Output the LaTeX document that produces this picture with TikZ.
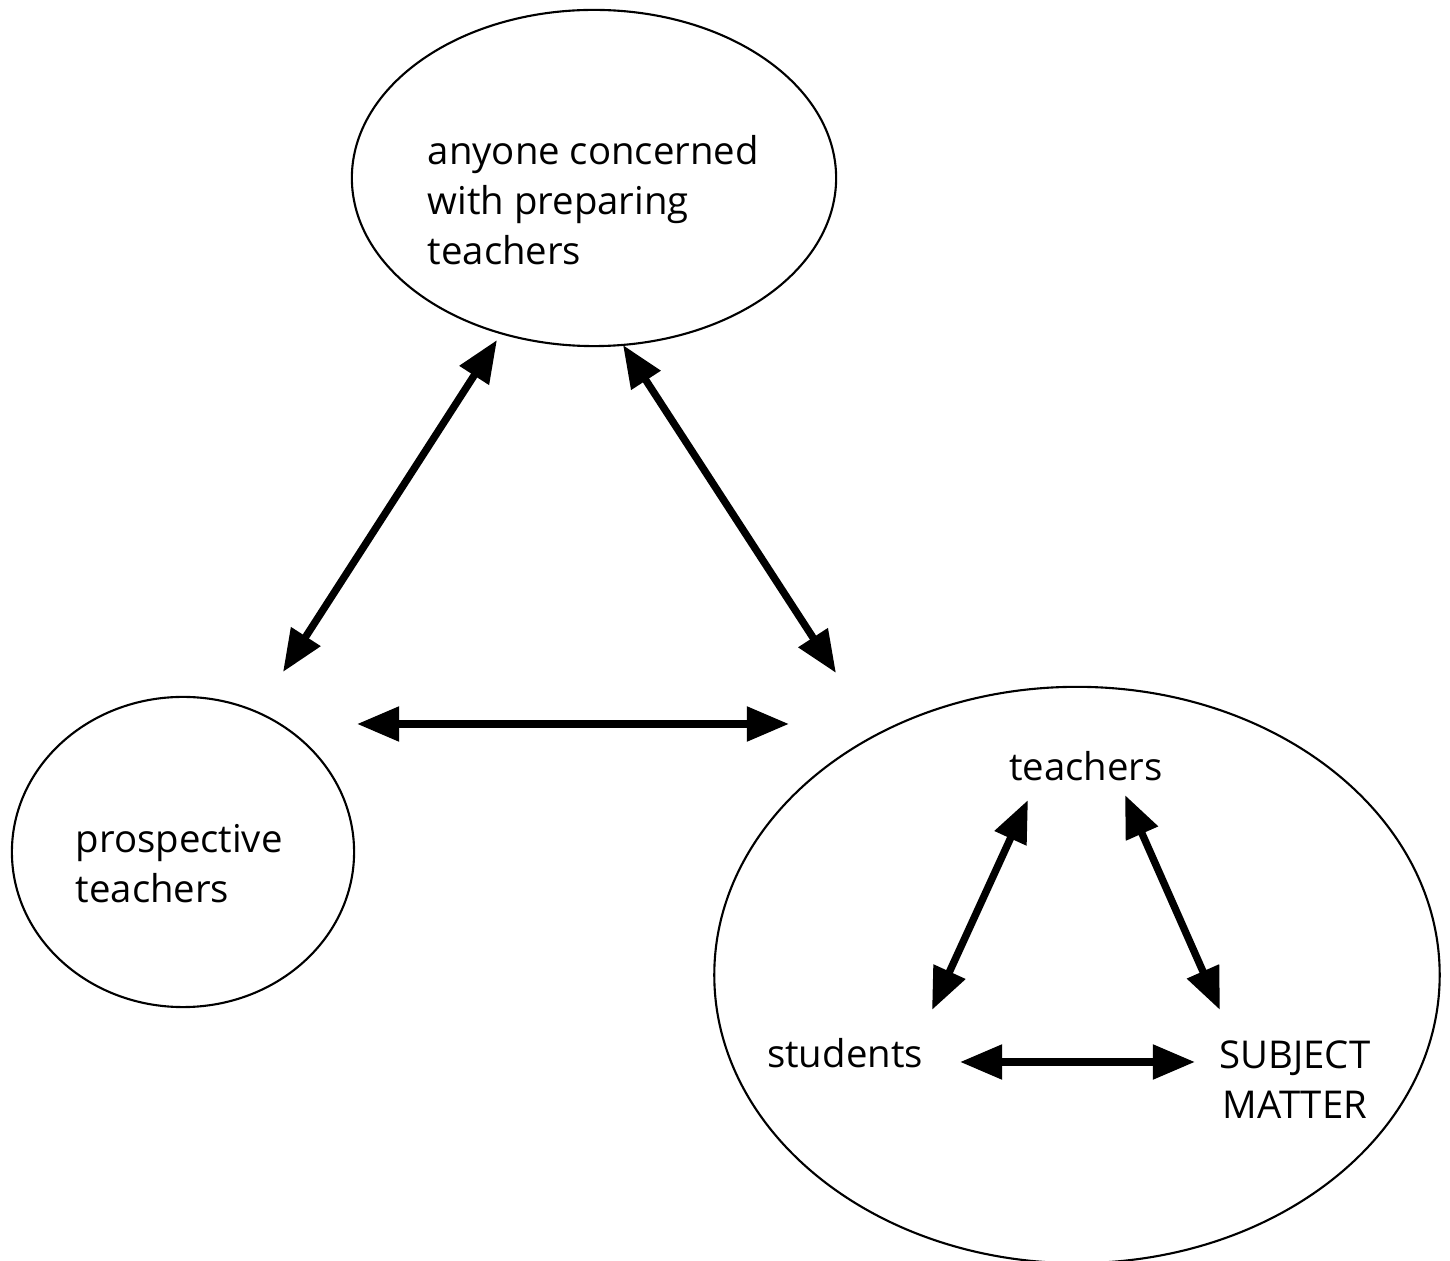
\documentclass[tikz,border=0pt]{standalone}
\usepackage{fontspec}
\setmainfont{Open Sans}
\usepackage{tikz}
\usetikzlibrary{arrows.meta,shapes.geometric,positioning}

\begin{document}
\begin{tikzpicture}[
    x=0.01cm, y=-0.01cm,
    group/.style={ellipse, draw, line width=0.6pt, inner sep=0pt},
    label/.style={align=left, font=\fontsize{10.9}{14.2}\selectfont, inner sep=0pt},
    link/.style={{Triangle[length=12pt,width=9.5pt]}-{Triangle[length=12pt,width=9.5pt]}, line width=2.1pt}
]
    \useasboundingbox (0,0) rectangle (1450,1261);

    % the three groups
    \node[group, minimum width=4.84cm, minimum height=3.36cm] (prep) at (594,178) {};
    \node[group, minimum width=3.42cm, minimum height=3.10cm] (pros) at (183,852) {};
    \node[group, minimum width=7.25cm, minimum height=5.76cm] (class) at (1077,975) {};

    \node[label, anchor=west] (preptxt) at (427,200) {anyone concerned\\with preparing\\teachers};
    \node[label, anchor=west] (prostxt) at (75,864) {prospective\\ teachers};

    % inner triangle
    \node[label] (teach) at (1086,766) {teachers};
    \node[label] (stud) at (845,1053) {students};
    \node[label, align=center] (subj) at (1295,1080) {SUBJECT\\MATTER};

    % arrow ends
    \coordinate (a1) at (283,672);
    \coordinate (a2) at (497,340);
    \coordinate (b1) at (623,345);
    \coordinate (b2) at (836,673);
    \coordinate (c1) at (357,724);
    \coordinate (c2) at (789,724);
    \coordinate (d1) at (1028,800);
    \coordinate (d2) at (932,1010);
    \coordinate (e1) at (1125,795);
    \coordinate (e2) at (1220,1010);
    \coordinate (f1) at (960,1062);
    \coordinate (f2) at (1195,1062);

    \draw[link] (a1) -- (a2);
    \draw[link] (b1) -- (b2);
    \draw[link] (c1) -- (c2);
    \draw[link] (d1) -- (d2);
    \draw[link] (e1) -- (e2);
    \draw[link] (f1) -- (f2);
\end{tikzpicture}
\end{document}
